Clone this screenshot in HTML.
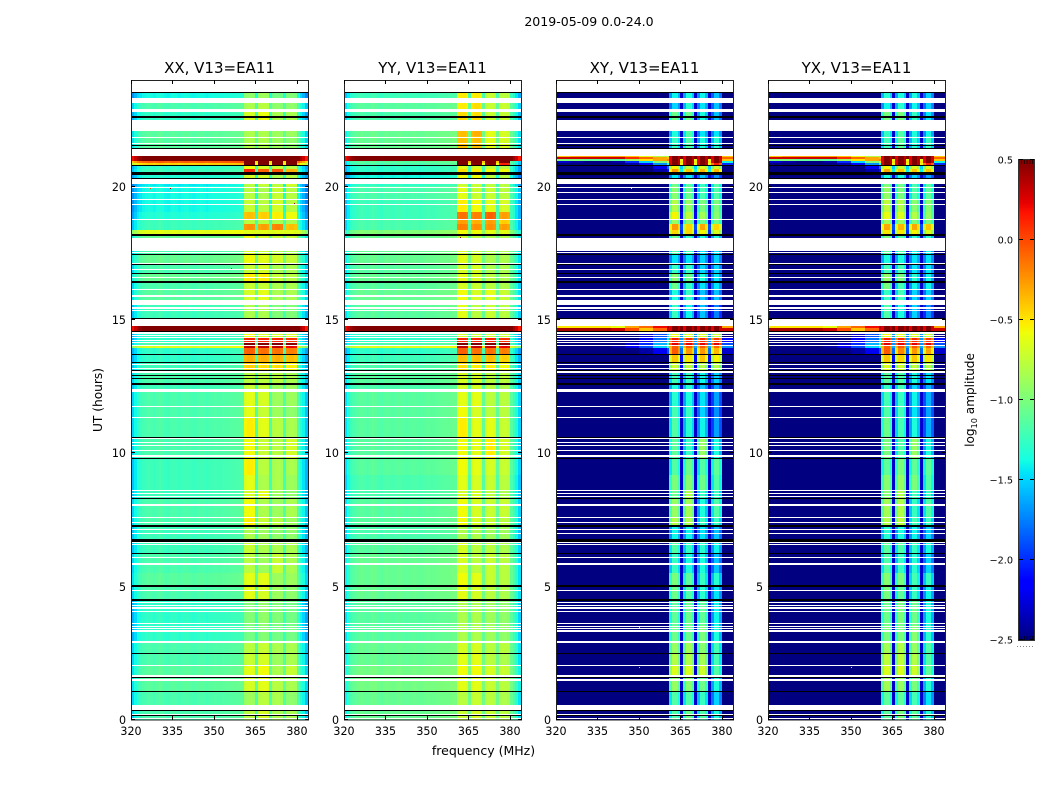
<!DOCTYPE html>
<html lang="en">
<head>
<meta charset="utf-8">
<title>2019-05-09 0.0-24.0</title>
<style>
html,body{margin:0;padding:0;background:#fff;}
svg{display:block;}
text{font-family:"DejaVu Sans","Liberation Sans",sans-serif;fill:#000;}
</style>
</head>
<body>
<svg id="chart" xmlns="http://www.w3.org/2000/svg" width="1050" height="800" viewBox="0 0 1050 800">
  <rect x="0" y="0" width="1050" height="800" fill="#fff"/>
  <text x="589" y="26" font-size="12.55" text-anchor="middle">2019-05-09 0.0-24.0</text>
  <text x="0" y="0" font-size="12.2" text-anchor="middle" transform="translate(102,400) rotate(-90)">UT (hours)</text>
  <text x="483.5" y="755" font-size="12.5" text-anchor="middle">frequency (MHz)</text>
  <text x="0" y="0" font-size="12.1" text-anchor="middle" transform="translate(974,400) rotate(-90)">log<tspan dy="3" font-size="8.2">10</tspan><tspan dy="-3"> amplitude</tspan></text>
  <g id="panels"></g>
  <g id="colorbar"></g>
</svg>
<script>
// ---------- chart data ----------
const panelTitles = ["XX, V13=EA11", "YY, V13=EA11", "XY, V13=EA11", "YX, V13=EA11"];
const xTickValues = [320, 335, 350, 365, 380];
const yTickValues = [0, 5, 10, 15, 20];
const colorbarTicks = [0.5, 0.0, -0.5, -1.0, -1.5, -2.0, -2.5];
const bandStarts = [41, 46, 51, 56];

// time-bin boundaries in UT hours, top to bottom
const rowEdges = [23.54,23.32,22.90,22.50,21.90,21.45,21.10,21.02,20.95,20.88,20.80,20.68,20.54,20.32,20.02,19.50,19.05,18.78,18.60,18.38,18.24,18.05,17.45,17.12,16.75,16.42,16.12,15.75,15.07,14.77,14.70,14.58,14.35,14.13,14.02,13.95,13.68,13.41,13.03,12.62,12.29,11.72,11.35,10.60,9.81,9.17,8.61,8.31,7.63,7.26,6.73,6.25,5.53,5.00,4.48,3.55,2.98,2.53,2.08,1.63,1.07,0.58,0.00];

// per-channel offsets (1 MHz channels, log10 amplitude)
const parallelProfile = [-.3,-.18,-.08,-.04,0,.02,.04,.02,0,.03,.05,.03,0,-.01,.02,.03,.02,0,.02,.03,.03,.01,0,.01,.02,.03,.02,0,.02,.03,.04,.03,.03,.04,.05,.05,.06,.06,.07,.08,.08,0,.03,.03,0,0,0,.03,.03,0,0,0,.03,.03,0,0,0,.03,.03,0,.02,-.1,-.2,-.35];
const crossProfile = [0,0,0,0,0,0,0,0,0,0,0,0,0,0,0,0,0,0,0,0,0,0,0,0,0,0,0,0,0,0,0,0,0,0,0,0,0,0,0,0,0,-.25,.05,.05,-.15,0,-.25,.05,.05,-.15,0,-.25,.05,.05,-.15,0,-.25,.05,.05,-.2,0,0,0,0];

// one row per time bin: [outer, gap, band1, band2, band3, band4]
const xxRows = [
[-1.4,-1.35,-.95,-.9,-1.05,-1],[-1.2,-1.15,-.85,-.8,-.95,-.95],[-1.3,-1.25,-.7,-.62,-.85,-.85],[-1.15,-1.1,-.85,-.85,-.9,-.9],[-1.15,-1.1,-.85,-.85,-.9,-.95],[.5,.5,.5,.5,.5,.5],
[.5,.5,.5,.5,.5,.5],[.5,.5,.5,.5,.5,.5],[-.1,-.5,.5,.5,.5,.5],[-.45,-.6,.5,.5,.5,.5],[-1.3,-1.2,-.6,-.7,-.75,-.8],[-1.25,-1.2,.1,-.1,-.05,-.35],
[-1.35,-1.3,-.7,-.7,-.85,-.8],[-1.45,-1.4,-.8,-.75,-.8,-.7],[-1.4,-1.35,-.8,-.85,-.75,-.8],[-1.4,-1.35,-.75,-.8,-.7,-.8],[-1.35,-1.3,-.4,-.45,-.55,-.6],[-1.25,-1.2,-.8,-.8,-.85,-.85],
[-1.25,-1.2,-.25,-.3,-.2,-.4],[-.65,-.65,-.65,-.65,-.65,-.65],[-1.1,-1.05,-.6,-.7,-.75,-.75],[-1.2,-1.15,-.7,-.75,-.8,-.85],[-1.1,-1.05,-.6,-.65,-.7,-.75],[-1.2,-1.15,-.75,-.7,-.85,-.85],
[-1.1,-1.05,-.55,-.55,-.75,-.8],[-1.2,-1.15,-.75,-.75,-.85,-.85],[-1.15,-1.1,-.7,-.65,-.85,-.85],[-1.25,-1.2,-.85,-.85,-1,-1],[-1.25,-1.2,-.85,-.85,-1,-1],[.5,.5,.5,.5,.5,.5],
[.5,.5,.5,.5,.5,.5],[-1.3,-1.25,-.6,-.7,-.7,-.7],[-1.3,-1.25,.1,.1,.1,.05],[-1.2,-1.15,.5,.5,.5,.45],[-.65,-.5,.3,.3,.3,.2],[-1.3,-1.2,-.1,-.15,-.15,-.2],
[-1.3,-1.2,-.35,-.35,-.35,-.4],[-1.25,-1.2,-.45,-.5,-.5,-.55],[-1.2,-1.15,-.8,-.8,-.8,-.85],[-1.25,-1.2,-.75,-.75,-.9,-.9],[-1.2,-1.15,-.65,-.7,-.9,-.9],[-1.2,-1.15,-.65,-.75,-.9,-.95],
[-1.2,-1.15,-.55,-.65,-.8,-.85],[-1.2,-1.15,-.6,-.75,-.8,-.7],[-1.25,-1.2,-.55,-.8,-.85,-.85],[-1.25,-1.2,-.65,-.85,-.85,-.9],[-1.25,-1.2,-.7,-.65,-.9,-.95],[-1.2,-1.15,-.6,-.85,-.9,-.85],
[-1.2,-1.15,-.55,-.75,-.8,-.9],[-1.25,-1.2,-.85,-.9,-.95,-.95],[-1.25,-1.2,-.75,-.85,-.85,-.85],[-1.2,-1.15,-.8,-.9,-.75,-.85],[-1.15,-1.1,-.65,-.65,-.9,-.9],[-1.2,-1.15,-.65,-.7,-.9,-.95],
[-1.3,-1.25,-1,-.95,-1,-1.05],[-1.3,-1.25,-1.05,-1,-1.05,-1.05],[-1.2,-1.15,-.8,-.75,-.85,-.85],[-1.2,-1.15,-.75,-.7,-.9,-.85],[-1.15,-1.1,-.65,-.6,-.85,-.75],[-1.15,-1.1,-.7,-.65,-.8,-.85],
[-1.2,-1.15,-.9,-.8,-.85,-.95],[-1.2,-1.15,-.8,-.7,-.85,-.85]];

const yyRows = [
[-1.25,-1.2,-.55,-.55,-.75,-.8],[-1.15,-1.1,-.55,-.5,-.75,-.75],[-1.2,-1.15,-.5,-.5,-.75,-.75],[-1.1,-1.05,-.4,-.35,-.65,-.7],[-1.1,-1.05,-.4,-.4,-.65,-.7],[.5,.5,.5,.5,.5,.5],
[.5,.5,.5,.5,.5,.5],[.5,.5,.5,.5,.5,.5],[-1.15,-.4,.5,.5,.5,.5],[-1.2,-.6,.5,.45,.45,.1],[-1.3,-1.2,-.65,-.7,-.75,-.8],[-1.3,-1.25,-.5,-.55,-.6,-.6],
[-1.4,-1.35,-.6,-.6,-.8,-.8],[-1.3,-1.25,-.75,-.75,-.8,-.8],[-1.2,-1.15,-.65,-.75,-.75,-.8],[-1.25,-1.2,-.55,-.6,-.65,-.7],[-1.25,-1.2,-.15,-.2,-.1,-.3],[-1.2,-1.15,-.3,-.35,-.3,-.45],
[-1.2,-1.15,-.2,-.25,-.25,-.3],[-1,-.95,-.6,-.6,-.65,-.65],[-1.1,-1.05,-.75,-.8,-.85,-.85],[-1.1,-1.05,-.7,-.75,-.85,-.85],[-1.1,-1.05,-.65,-.7,-.85,-.85],[-1.15,-1.1,-.7,-.7,-.85,-.85],
[-1.1,-1.05,-.65,-.7,-.8,-.85],[-1.15,-1.1,-.7,-.75,-.8,-.85],[-1.1,-1.05,-.6,-.7,-.65,-.75],[-1.15,-1.1,-.65,-.8,-.75,-.8],[-1.15,-1.1,-.7,-.8,-.8,-.85],[.5,.5,.5,.5,.5,.5],
[.5,.5,.5,.5,.5,.5],[-1.3,-1.25,-.7,-.75,-.75,-.75],[-1.3,-1.25,.1,.1,.1,.05],[-1.2,-1.15,.5,.5,.5,.45],[-.65,-.5,.3,.3,.3,.2],[-1.3,-1.2,-.1,-.15,-.15,-.2],
[-1.25,-1.2,-.4,-.4,-.4,-.45],[-1.2,-1.15,-.5,-.55,-.55,-.6],[-1.15,-1.1,-.7,-.7,-.8,-.8],[-1.2,-1.15,-.7,-.7,-.8,-.85],[-1.15,-1.1,-.65,-.65,-.8,-.8],[-1.15,-1.1,-.6,-.7,-.8,-.8],
[-1.15,-1.1,-.55,-.65,-.65,-.75],[-1.15,-1.1,-.6,-.65,-.55,-.7],[-1.15,-1.1,-.6,-.65,-.7,-.75],[-1.2,-1.15,-.65,-.7,-.75,-.8],[-1.2,-1.15,-.7,-.7,-.8,-.85],[-1.15,-1.1,-.6,-.7,-.75,-.75],
[-1.15,-1.1,-.6,-.7,-.75,-.8],[-1.2,-1.15,-.85,-.85,-.9,-.9],[-1.15,-1.1,-.7,-.8,-.8,-.85],[-1.1,-1.05,-.7,-.8,-.75,-.8],[-1.1,-1.05,-.6,-.65,-.75,-.8],[-1.1,-1.05,-.65,-.7,-.8,-.85],
[-1.15,-1.1,-.85,-.85,-.9,-.95],[-1.15,-1.1,-.85,-.85,-.9,-.95],[-1.1,-1.05,-.7,-.7,-.8,-.8],[-1.1,-1.05,-.65,-.65,-.8,-.85],[-1.05,-1,-.6,-.6,-.7,-.75],[-1.05,-1,-.65,-.65,-.75,-.8],
[-1.1,-1.05,-.8,-.75,-.8,-.85],[-1.1,-1.05,-.75,-.7,-.75,-.8]];

const xyRows = [
[-2.5,-2.3,-1.45,-1.4,-1.45,-1.6],[-2.5,-2.3,-1.55,-1.35,-1.5,-1.6],[-2.5,-2.3,-1.1,-1.1,-1.4,-1.6],[-2.5,-2.3,-1.4,-1.2,-1.5,-1.5],[-2.5,-2.3,-1.3,-1.2,-1.4,-1.35],[-.4,.5,.5,.5,.5,.5],
[-.1,.5,.5,.5,.5,.5],[-.4,-.6,.5,.5,.5,.5],[-1.4,-.5,.5,.5,.5,.5],[-2,-.6,.5,.5,.5,.1],[-2.5,-1.5,-.6,-.8,-.7,-.75],[-2.5,-1.4,-.3,-.45,-.4,-.4],
[-2.5,-2.3,-1.5,-1.5,-1.6,-1.75],[-2.5,-2.3,-1.1,-1.2,-1.3,-1.2],[-2.5,-2.3,-1,-1.1,-1.25,-1.2],[-2.5,-2.3,-.85,-.95,-1.05,-1.05],[-2.5,-2.2,-.6,-.8,-.9,-1],[-2.5,-2.2,-.95,-1,-1.1,-1.1],
[-2.5,-1.9,-.3,-.5,-.35,-.5],[-2.5,-2,-.5,-.5,-.6,-.7],[-2.5,-2.3,-1.1,-1.3,-1.4,-1.4],[-2.5,-2.3,-1.2,-1.25,-1.5,-1.5],[-2.5,-2.3,-1.5,-1.5,-1.55,-1.55],[-2.5,-2.3,-1.3,-1.3,-1.55,-1.55],
[-2.5,-2.3,-1,-1.1,-1.4,-1.5],[-2.5,-2.3,-1.1,-1.3,-1.5,-1.5],[-2.5,-2.3,-1.4,-1.3,-1.6,-1.6],[-2.5,-2.3,-1.3,-1.45,-1.6,-1.8],[-2.5,-2.3,-1.3,-1.45,-1.6,-1.8],[-.3,.5,.5,.5,.5,.5],
[.3,.5,.5,.5,.5,.5],[-2.5,-1.7,-.6,-.7,-.7,-.75],[-2.1,-1.7,.1,.05,.05,0],[-1.9,-1.7,.2,.2,.2,.2],[-1.7,-1.6,-.1,-.1,-.1,-.15],[-2.3,-1.8,-.1,-.3,-.3,-.4],
[-2.5,-2.1,-.45,-.55,-.45,-.6],[-2.5,-2.2,-.75,-.8,-.85,-.85],[-2.5,-2.3,-1.25,-1.3,-1.45,-1.55],[-2.5,-2.3,-1.4,-1.35,-1.6,-1.7],[-2.5,-2.3,-1.35,-1.4,-1.5,-1.7],[-2.5,-2.3,-1.25,-1.3,-1.55,-1.75],
[-2.5,-2.3,-1.2,-1.35,-1.45,-1.7],[-2.5,-2.3,-1.15,-1.3,-.95,-1.4],[-2.5,-2.3,-1.2,-1.1,-1.2,-1.15],[-2.5,-2.3,-1.05,-1,-1.1,-1.2],[-2.5,-2.3,-1.1,-.85,-1.3,-1.3],[-2.5,-2.3,-.95,-.9,-1.4,-1.2],
[-2.5,-2.3,-.85,-.85,-1.3,-1.3],[-2.5,-2.3,-1.45,-1.45,-1.5,-1.6],[-2.5,-2.3,-1.2,-1.3,-1.35,-1.45],[-2.5,-2.3,-1.3,-1.4,-1.4,-1.6],[-2.5,-2.3,-1.05,-1.15,-1.3,-1.35],[-2.5,-2.3,-1.1,-1.2,-1.35,-1.5],
[-2.5,-2.3,-1.15,-1.1,-1.15,-1.45],[-2.5,-2.3,-1.1,-1.1,-1.05,-1.4],[-2.5,-2.3,-.95,-.9,-1,-1.25],[-2.5,-2.3,-.85,-.85,-.9,-1.25],[-2.5,-2.3,-.7,-.7,-.75,-1.2],[-2.5,-2.3,-.95,-1,-1.1,-1.4],
[-2.5,-2.3,-1.2,-1.2,-1.3,-1.55],[-2.5,-2.3,-1.2,-1.1,-1.2,-1.4]];

const yxRows = [
[-2.5,-2.3,-1.35,-1.4,-1.4,-1.55],[-2.5,-2.3,-1.45,-1.35,-1.45,-1.55],[-2.5,-2.3,-1.05,-1.05,-1.3,-1.5],[-2.5,-2.3,-1.3,-1.2,-1.4,-1.45],[-2.5,-2.3,-1.25,-1.15,-1.35,-1.3],[-.4,.5,.5,.5,.5,.5],
[-.1,.5,.5,.5,.5,.5],[-.4,-.6,.5,.5,.5,.5],[-1.4,-.5,.5,.5,.5,.5],[-2,-.6,.5,.5,.5,.1],[-2.5,-1.5,-.6,-.75,-.7,-.7],[-2.5,-1.4,-.35,-.45,-.45,-.45],
[-2.5,-2.3,-1.4,-1.4,-1.55,-1.7],[-2.5,-2.3,-1.05,-1.1,-1.25,-1.2],[-2.5,-2.3,-.95,-1.05,-1.2,-1.15],[-2.5,-2.3,-.8,-.85,-1,-1],[-2.5,-2.2,-.65,-.7,-.85,-.95],[-2.5,-2.2,-.9,-.95,-1.05,-1.05],
[-2.5,-1.9,-.35,-.4,-.35,-.45],[-2.5,-2,-.55,-.55,-.6,-.7],[-2.5,-2.3,-1.05,-1.2,-1.35,-1.35],[-2.5,-2.3,-1.15,-1.2,-1.45,-1.45],[-2.5,-2.3,-1.4,-1.4,-1.5,-1.5],[-2.5,-2.3,-1.25,-1.25,-1.5,-1.5],
[-2.5,-2.3,-.95,-1.05,-1.35,-1.45],[-2.5,-2.3,-1.05,-1.25,-1.45,-1.45],[-2.5,-2.3,-1.3,-1.25,-1.55,-1.55],[-2.5,-2.3,-1.2,-1.4,-1.55,-1.75],[-2.5,-2.3,-1.2,-1.4,-1.55,-1.75],[-.3,.5,.5,.5,.5,.5],
[.3,.5,.5,.5,.5,.5],[-2.5,-1.7,-.6,-.65,-.7,-.75],[-2.1,-1.7,.1,.05,.05,0],[-1.9,-1.7,.2,.2,.2,.2],[-1.7,-1.6,-.1,-.1,-.1,-.15],[-2.3,-1.8,-.1,-.25,-.3,-.35],
[-2.5,-2.1,-.45,-.5,-.45,-.55],[-2.5,-2.2,-.7,-.75,-.8,-.85],[-2.5,-2.3,-1.15,-1.2,-1.4,-1.5],[-2.5,-2.3,-1.3,-1.25,-1.55,-1.65],[-2.5,-2.3,-1.25,-1.3,-1.45,-1.65],[-2.5,-2.3,-1.2,-1.25,-1.5,-1.7],
[-2.5,-2.3,-1.1,-1.25,-1.4,-1.65],[-2.5,-2.3,-1.05,-1.2,-.95,-1.4],[-2.5,-2.3,-1.15,-1.05,-1.15,-1.15],[-2.5,-2.3,-1,-.95,-1.05,-1.2],[-2.5,-2.3,-1,-.85,-1.25,-1.3],[-2.5,-2.3,-.9,-.85,-1.3,-1.2],
[-2.5,-2.3,-.85,-.8,-1.25,-1.3],[-2.5,-2.3,-1.35,-1.4,-1.45,-1.55],[-2.5,-2.3,-1.15,-1.2,-1.3,-1.4],[-2.5,-2.3,-1.2,-1.3,-1.35,-1.55],[-2.5,-2.3,-1,-1.05,-1.25,-1.3],[-2.5,-2.3,-1.05,-1.15,-1.3,-1.45],
[-2.5,-2.3,-1.1,-1.05,-1.1,-1.4],[-2.5,-2.3,-1.05,-1.05,-1,-1.35],[-2.5,-2.3,-.9,-.85,-.95,-1.2],[-2.5,-2.3,-.8,-.8,-.85,-1.2],[-2.5,-2.3,-.7,-.7,-.75,-1.15],[-2.5,-2.3,-.9,-.95,-1.05,-1.35],
[-2.5,-2.3,-1.15,-1.15,-1.25,-1.5],[-2.5,-2.3,-1.15,-1.05,-1.15,-1.35]];

// left-of-band values per 5 MHz block for rows where RFI leaks across the band
const crossFlareRows = [5,6,7,8,9,10,11,29,30,31,32,33,34,35];
const crossFlareBlocks = [
[-.4,-.3,-.3,-.3,-.3,-.4,-.6,-.8,-.9],
[.3,.3,.3,.3,.3,.1,-.1,-.3,-.4],
[-1,-1,-1.1,-1.1,-1.1,-.9,-.5,-.3,-.2],
[-2.3,-2.4,-2.5,-2.5,-2.4,-2,-1.5,-1,-.6],
[-2.5,-2.5,-2.5,-2.5,-2.5,-2.4,-2.1,-1.7,-1.3],
[-2.5,-2.5,-2.5,-2.5,-2.5,-2.5,-2.5,-2.2,-1.8],
[-2.5,-2.5,-2.5,-2.5,-2.5,-2.5,-2.5,-2.4,-2.1],
[-.5,-.5,-.5,-.5,-.6,-.3,-.1,.2,.4],
[.4,.4,.4,.4,.3,0,-.4,-.1,.3],
[-2.5,-2.5,-2.5,-2.5,-2.5,-2.5,-2.3,-1.9,-1.5],
[-2.5,-2.5,-2.5,-2.5,-2.5,-2.5,-2.2,-1.8,-1.4],
[-2.5,-2.5,-2.5,-2.5,-2.5,-2.3,-2,-1.6,-1.2],
[-2.5,-2.5,-2.5,-2.5,-2.4,-2.2,-1.9,-1.5,-1.1],
[-2.5,-2.5,-2.5,-2.5,-2.5,-2.5,-2.4,-2.2,-1.9]];

// flagged (no data) time ranges in UT hours: [top, bottom]
const whiteBands = [[24,23.54],[23.32,23.14],[22.90,22.81],[22.50,22.08],[21.85,21.81],[21.65,21.62],[21.42,21.14],[20.27,20.09],[19.98,19.94],[19.81,19.78],[19.55,19.51],[19.36,19.33],[18.80,18.77],[18.06,17.83],[17.80,17.57],[17.55,17.50],[17.13,17.10],[16.90,16.86],[16.61,16.57],[16.15,16.11],[15.93,15.85],[15.74,15.55],[15.49,15.43],[15.37,15.33],[15.02,14.77],[14.54,14.48],[14.45,14.41],[14.35,14.31],[14.24,14.20],[14.17,14.13],[14.05,14.01],[13.34,13.30],[13.21,13.17],[13.08,13.02],[12.40,12.29],[11.78,11.72],[11.37,11.34],[10.56,10.52],[10.41,10.38],[10.30,10.26],[10.13,10.09],[9.95,9.87],[8.64,8.59],[8.52,8.49],[8.41,8.38],[8.11,8.03],[7.63,7.58],[7.41,7.37],[7.15,7.11],[7.00,6.96],[6.67,6.65],[6.59,6.55],[6.10,6.06],[5.87,5.83],[4.86,4.82],[4.41,4.37],[4.33,4.30],[4.23,4.15],[4.10,4.05],[3.64,3.60],[3.53,3.49],[3.45,3.42],[3.36,3.31],[2.98,2.94],[2.91,2.87],[2.08,2.05],[1.67,1.63],[1.52,1.46],[0.58,0.38],[0.24,0.21],[0.09,0.06]];
const blackBands = [[23.55,23.51],[22.65,22.56],[21.56,21.52],[21.45,21.42],[20.80,20.77],[20.54,20.43],[20.31,20.28],[18.24,18.14],[17.47,17.43],[17.09,17.05],[16.76,16.73],[16.48,16.40],[15.09,15.05],[14.57,14.54],[13.71,13.67],[13.41,13.37],[13.11,13.08],[12.93,12.90],[12.84,12.80],[12.62,12.58],[10.62,10.58],[9.81,9.77],[8.33,8.27],[7.33,7.30],[7.26,7.22],[6.77,6.69],[6.28,6.25],[5.05,4.97],[4.52,4.45],[2.53,2.50],[1.61,1.58],[1.07,1.05],[0.36,0.34],[0.17,0.14]];

// isolated pixels: [panel, MHz, UT hours, log10 amplitude]
const speckles = [[0,327,19.96,-.05],[0,334,19.96,.4],[0,349,19.96,-.4],[0,334,18.2,.4],[0,359,18.2,.1],[0,379,20.3,.4],[0,379,19.4,.4],[0,356,16.95,.1],[1,362,18.1,.5],[2,347,19.96,-.6],[2,347,22.9,-.4],[3,348,22.9,-.4],[2,350,3.5,-1],[2,350,2,-1.1],[3,350,2,-1.1]];

// ---------- layout ----------
const panelLefts = [131, 344, 556, 768];
const panelWidth = 177;
const panelTop = 80;
const panelBottom = 720;
const freqMin = 320;
const freqMax = 384;
const valueMin = -2.5;
const valueMax = 0.5;
const SVG_NS = "http://www.w3.org/2000/svg";

function xScale(panel, mhz) {
  return panelLefts[panel] + (mhz - freqMin) * panelWidth / (freqMax - freqMin);
}
function yScale(hours) {
  return panelBottom - hours * (panelBottom - panelTop) / 24;
}
function ramp(pts, t) {
  for (let i = 1; i < pts.length; i++) {
    if (t <= pts[i][0]) {
      const a = pts[i - 1], b = pts[i];
      return a[1] + (b[1] - a[1]) * (t - a[0]) / (b[0] - a[0]);
    }
  }
  return pts[pts.length - 1][1];
}
function jet(value) {
  const t = Math.max(0, Math.min(1, (value - valueMin) / (valueMax - valueMin)));
  const r = ramp([[0,0],[.35,0],[.66,1],[.89,1],[1,.5]], t);
  const g = ramp([[0,0],[.125,0],[.375,1],[.64,1],[.91,0],[1,0]], t);
  const b = ramp([[0,.5],[.11,1],[.34,1],[.65,0],[1,0]], t);
  return "rgb(" + Math.round(r * 255) + "," + Math.round(g * 255) + "," + Math.round(b * 255) + ")";
}
function svgEl(tag, parent) {
  const el = document.createElementNS(SVG_NS, tag);
  parent.appendChild(el);
  return el;
}
function setRect(el, x, y, w, h, fill) {
  el.setAttribute("x", x);
  el.setAttribute("y", y);
  el.setAttribute("width", w);
  el.setAttribute("height", h);
  el.setAttribute("fill", fill);
  el.setAttribute("shape-rendering", "crispEdges");
}
function cellValue(rows, profile, flareRows, flareBlocks, rowIndex, ch) {
  const row = rows[rowIndex];
  const offset = profile[ch];
  for (let b = 0; b < bandStarts.length; b++) {
    if (ch >= bandStarts[b] && ch < bandStarts[b] + 4) {
      return row[2 + b] + offset;
    }
  }
  if (ch === 45 || ch === 50 || ch === 55) {
    return row[1] + offset;
  }
  const f = flareRows ? flareRows.indexOf(rowIndex) : -1;
  if (f >= 0 && ch <= 40) {
    return flareBlocks[f][Math.floor(ch / 5)];
  }
  return row[0] + offset;
}
function bandRect(group, panel, top, bottom, fill, name) {
  const y0 = Math.round(yScale(top));
  const y1 = Math.max(y0 + 1, Math.round(yScale(bottom)));
  const r = svgEl("rect", group);
  
  
  setRect(r, panelLefts[panel], y0, panelWidth, y1 - y0, fill);
}

// ---------- panels ----------
const panelsRoot = document.getElementById("panels");
const panelRows = [xxRows, yyRows, xyRows, yxRows];
const panelProfiles = [parallelProfile, parallelProfile, crossProfile, crossProfile];
const panelFlareRows = [null, null, crossFlareRows, crossFlareRows];

panelTitles.forEach(function (title, p) {
  const g = svgEl("g", panelsRoot);
  
  

  const heat = svgEl("g", g);
  
  
  const channelCount = freqMax - freqMin;
  for (let i = 0; i < panelRows[p].length; i++) {
    const y0 = Math.round(yScale(rowEdges[i]));
    const y1 = Math.round(yScale(rowEdges[i + 1]));
    for (let ch = 0; ch < channelCount; ch++) {
      const x0 = Math.round(xScale(p, freqMin + ch));
      const x1 = Math.round(xScale(p, freqMin + ch + 1));
      const cell = svgEl("rect", heat);
      
      
      const v = cellValue(panelRows[p], panelProfiles[p], panelFlareRows[p], crossFlareBlocks, i, ch);
      setRect(cell, x0, y0, x1 - x0, y1 - y0, jet(v));
    }
  }

  speckles.forEach(function (s) {
    if (s[0] !== p) return;
    const dot = svgEl("rect", heat);
    
    
    setRect(dot, Math.round(xScale(p, s[1])), Math.round(yScale(s[2])), 1, 1, jet(s[3]));
  });

  whiteBands.forEach(function (b) { bandRect(g, p, b[0], b[1], "#fff", "flagged-time-band"); });
  blackBands.forEach(function (b) { bandRect(g, p, b[0], b[1], "#000", "zero-amplitude-line"); });

  const frame = svgEl("rect", g);
  
  
  frame.setAttribute("x", panelLefts[p] + 0.5);
  frame.setAttribute("y", panelTop + 0.5);
  frame.setAttribute("width", panelWidth);
  frame.setAttribute("height", panelBottom - panelTop - 0.5);
  frame.setAttribute("fill", "none");
  frame.setAttribute("stroke", "#222");
  frame.setAttribute("stroke-width", "1");

  xTickValues.forEach(function (v) {
    const x = Math.round(xScale(p, v)) + 0.5;
    [[panelBottom, panelBottom - 4], [panelTop, panelTop + 4]].forEach(function (ends) {
      const tick = svgEl("line", g);
      
      
      tick.setAttribute("x1", x);
      tick.setAttribute("x2", x);
      tick.setAttribute("y1", ends[0]);
      tick.setAttribute("y2", ends[1]);
      tick.setAttribute("stroke", "#000");
    });
    const label = svgEl("text", g);
    
    
    label.setAttribute("x", xScale(p, v));
    label.setAttribute("y", 735);
    label.setAttribute("font-size", "11.1");
    label.setAttribute("text-anchor", "middle");
    label.textContent = String(v);
  });

  yTickValues.forEach(function (v) {
    const y = Math.round(yScale(v)) - 0.5;
    const left = panelLefts[p];
    [[left, left + 4], [left + panelWidth + 1, left + panelWidth - 3]].forEach(function (ends) {
      const tick = svgEl("line", g);
      
      
      tick.setAttribute("x1", ends[0]);
      tick.setAttribute("x2", ends[1]);
      tick.setAttribute("y1", y);
      tick.setAttribute("y2", y);
      tick.setAttribute("stroke", "#000");
    });
    const label = svgEl("text", g);
    
    
    label.setAttribute("x", left - 5);
    label.setAttribute("y", y + 4.5);
    label.setAttribute("font-size", "11.1");
    label.setAttribute("text-anchor", "end");
    label.textContent = String(v);
  });

  const t = svgEl("text", g);
  
  
  t.setAttribute("x", panelLefts[p] + panelWidth / 2);
  t.setAttribute("y", 73);
  t.setAttribute("font-size", "15");
  t.setAttribute("text-anchor", "middle");
  t.textContent = title;
});

// ---------- colorbar ----------
const cbRoot = document.getElementById("colorbar");
const cbLeft = 1019, cbRight = 1034, cbTop = 160, cbBottom = 640;
function cbScale(value) {
  return cbBottom - (value - valueMin) * (cbBottom - cbTop) / (valueMax - valueMin);
}
for (let py = cbTop; py < cbBottom; py += 2) {
  const seg = svgEl("rect", cbRoot);
  
  
  const value = valueMax - (py + 1 - cbTop) * (valueMax - valueMin) / (cbBottom - cbTop);
  setRect(seg, cbLeft, py, cbRight - cbLeft, 2, jet(value));
}
const cbFrame = svgEl("rect", cbRoot);


cbFrame.setAttribute("x", cbLeft - 0.5);
cbFrame.setAttribute("y", cbTop - 0.5);
cbFrame.setAttribute("width", cbRight - cbLeft + 1);
cbFrame.setAttribute("height", cbBottom - cbTop + 1);
cbFrame.setAttribute("fill", "none");
cbFrame.setAttribute("stroke", "#333");

colorbarTicks.forEach(function (v) {
  const y = Math.round(cbScale(v)) - 0.5;
  [[cbLeft, cbLeft + 4], [cbRight, cbRight - 4]].forEach(function (ends) {
    const tick = svgEl("line", cbRoot);
    
    
    tick.setAttribute("x1", ends[0]);
    tick.setAttribute("x2", ends[1]);
    tick.setAttribute("y1", y);
    tick.setAttribute("y2", y);
    tick.setAttribute("stroke", "#000");
  });
  const label = svgEl("text", cbRoot);
  
  
  label.setAttribute("x", 1013);
  label.setAttribute("y", cbScale(v) + 3.5);
  label.setAttribute("font-size", "9.7");
  label.setAttribute("text-anchor", "end");
  label.textContent = v.toFixed(1).replace("-", "\u2212");
});

for (let i = 0; i < 5; i++) {
  const x = cbLeft + 2.5 + i * 2.8;
  [[cbTop, cbTop + 4], [cbBottom, cbBottom - 4]].forEach(function (ends) {
    const tick = svgEl("line", cbRoot);
    
    
    tick.setAttribute("x1", x);
    tick.setAttribute("x2", x);
    tick.setAttribute("y1", ends[0]);
    tick.setAttribute("y2", ends[1]);
    tick.setAttribute("stroke", "#000");
    tick.setAttribute("stroke-width", "0.7");
  });
}
const cbDots = svgEl("line", cbRoot);


cbDots.setAttribute("x1", 1017);
cbDots.setAttribute("x2", 1035);
cbDots.setAttribute("y1", 646.5);
cbDots.setAttribute("y2", 646.5);
cbDots.setAttribute("stroke", "#888");
cbDots.setAttribute("stroke-width", "1");
cbDots.setAttribute("stroke-dasharray", "1 2");
</script>
</body>
</html>
